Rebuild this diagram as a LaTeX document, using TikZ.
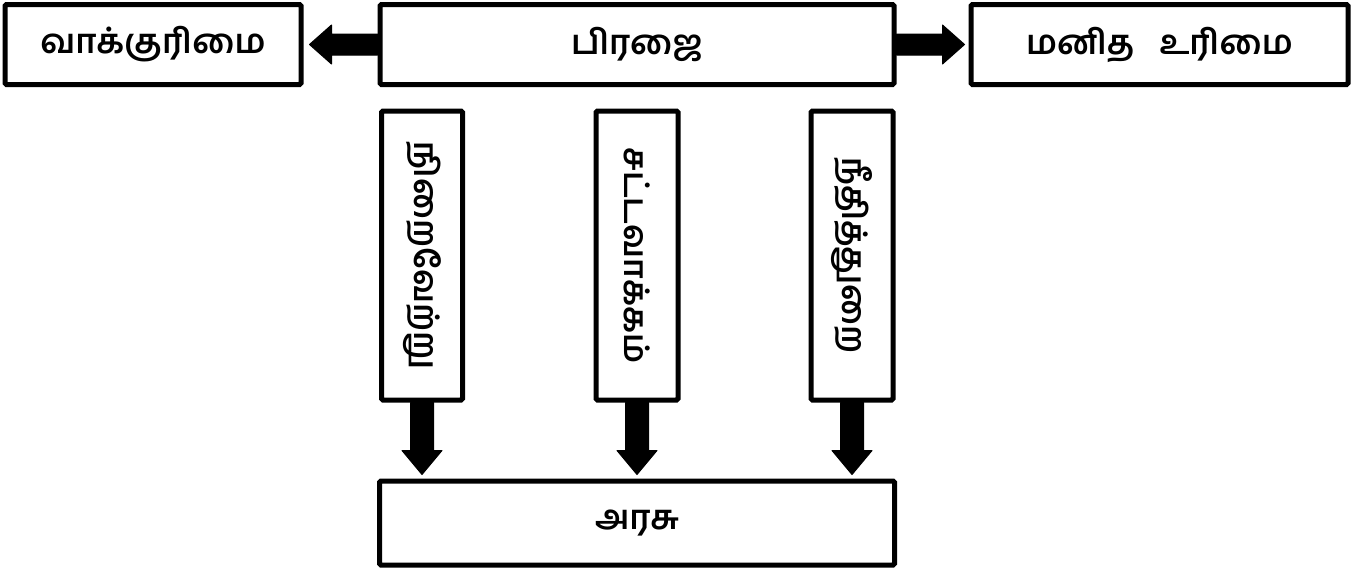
\documentclass[tikz,border=0pt]{standalone}
\usepackage{fontspec}
\newfontfamily\tam[Script=Tamil]{Hind Madurai}
\usetikzlibrary{calc}
\tikzset{
  box/.style={draw, line width=5pt, rounded corners=1.5pt, inner sep=0pt, font=\tam\bfseries\fontsize{34}{38}\selectfont},
  vtext/.style={rotate=-90, font=\tam\bfseries\fontsize{33}{36}\selectfont, inner sep=0pt},
  blk/.style={fill=black, draw=black, line width=1pt, line join=round}
}
\begin{document}
\begin{tikzpicture}[x=1pt,y=-1pt]
\useasboundingbox (0,0) rectangle (1354,570);
% boxes
\node[box, minimum width=296pt, minimum height=80pt] (vote) at (153,44.5) {வாக்குரிமை};
\node[box, minimum width=514pt, minimum height=80pt] (citizen) at (637,44.5) {பிரஜை};
\node[box, minimum width=377pt, minimum height=80pt] (human) at (1159.5,44.5) {மனித\ \ \ உரிமை};
\node[box, minimum width=81pt, minimum height=289pt] (exec) at (422,255.5) {};
\node[box, minimum width=82pt, minimum height=289pt] (legis) at (637,255.5) {};
\node[box, minimum width=82pt, minimum height=289pt] (judic) at (852,255.5) {};
\node[vtext] (t1) at (exec.center) {நிறைவேற்று};
\node[vtext] (t2) at (legis.center) {சட்டவாக்கம்};
\node[vtext] (t3) at (judic.center) {நீதித்துறை};
\node[box, minimum width=515pt, minimum height=84pt] (gov) at (637,523) {அரசு};
% tips
\coordinate (ltip) at ($(vote.east)+(6,0)$);
\coordinate (rtip) at ($(human.west)+(-4,0)$);
\coordinate (d1) at ($(gov.north)+(-215,-4)$);
\coordinate (d2) at ($(gov.north)+(0,-4)$);
\coordinate (d3) at ($(gov.north)+(215,-4)$);
% horizontal block arrows
\path[blk] ($(citizen.west)+(0,-10.5)$) -- ($(ltip)+(22,-10.5)$) -- ($(ltip)+(22,-19.5)$) -- (ltip)
  -- ($(ltip)+(22,19.5)$) -- ($(ltip)+(22,10.5)$) -- ($(citizen.west)+(0,10.5)$) -- cycle;
\path[blk] ($(citizen.east)+(0,-10.5)$) -- ($(rtip)+(-22,-10.5)$) -- ($(rtip)+(-22,-19.5)$) -- (rtip)
  -- ($(rtip)+(-22,19.5)$) -- ($(rtip)+(-22,10.5)$) -- ($(citizen.east)+(0,10.5)$) -- cycle;
% vertical block arrows
\foreach \s/\t in {exec/d1, legis/d2, judic/d3}{
  \path[blk] ($(\s.south)+(-11.5,0)$) -- ($(\t)+(-11.5,-24)$) -- ($(\t)+(-20,-24)$) -- (\t)
    -- ($(\t)+(20,-24)$) -- ($(\t)+(11.5,-24)$) -- ($(\s.south)+(11.5,0)$) -- cycle;
}
\end{tikzpicture}
\end{document}
